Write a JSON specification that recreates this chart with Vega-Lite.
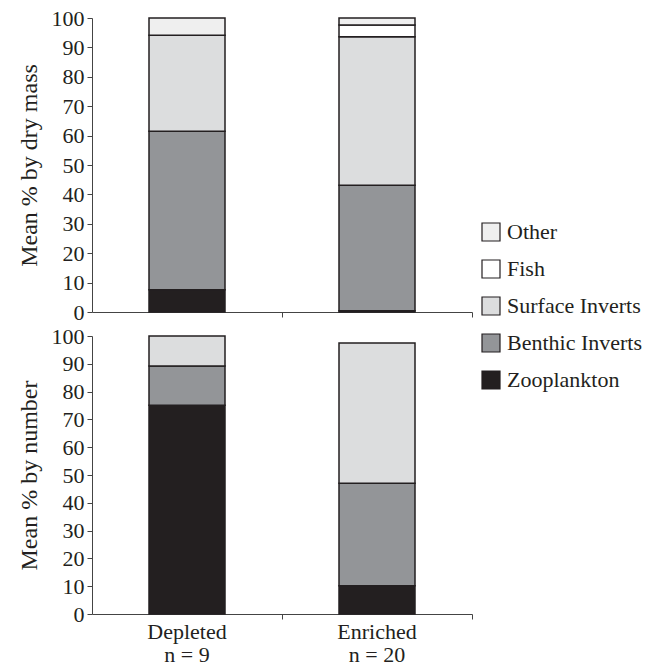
{
  "$schema": "https://vega.github.io/schema/vega-lite/v6.json",
  "background": "white",
  "padding": {"left": 17, "top": 7, "right": 0, "bottom": 0},
  "spacing": 2,
  "datasets": {
    "mass": [
      {"group": "Depleted", "prey": "Zooplankton", "idx": 1, "pct": 7.6},
      {"group": "Depleted", "prey": "Benthic Inverts", "idx": 2, "pct": 53.9},
      {"group": "Depleted", "prey": "Surface Inverts", "idx": 3, "pct": 32.6},
      {"group": "Depleted", "prey": "Other", "idx": 5, "pct": 5.9},
      {"group": "Enriched", "prey": "Zooplankton", "idx": 1, "pct": 0.4},
      {"group": "Enriched", "prey": "Benthic Inverts", "idx": 2, "pct": 42.7},
      {"group": "Enriched", "prey": "Surface Inverts", "idx": 3, "pct": 50.5},
      {"group": "Enriched", "prey": "Fish", "idx": 4, "pct": 4.0},
      {"group": "Enriched", "prey": "Other", "idx": 5, "pct": 2.4}
    ],
    "number": [
      {"group": "Depleted", "prey": "Zooplankton", "idx": 1, "pct": 75.1},
      {"group": "Depleted", "prey": "Benthic Inverts", "idx": 2, "pct": 14.1},
      {"group": "Depleted", "prey": "Surface Inverts", "idx": 3, "pct": 10.8},
      {"group": "Enriched", "prey": "Zooplankton", "idx": 1, "pct": 10.2},
      {"group": "Enriched", "prey": "Benthic Inverts", "idx": 2, "pct": 36.8},
      {"group": "Enriched", "prey": "Surface Inverts", "idx": 3, "pct": 50.5}
    ]
  },
  "config": {
    "font": "Liberation Serif",
    "view": {"stroke": null},
    "axis": {
      "grid": false,
      "domainColor": "#444",
      "tickColor": "#444",
      "tickSize": 5,
      "labelFont": "Liberation Serif",
      "labelFontSize": 22,
      "labelColor": "#231f20",
      "titleFont": "Liberation Serif",
      "titleFontSize": 24,
      "titleFontWeight": "normal",
      "titleColor": "#231f20"
    },
    "legend": {
      "labelFont": "Liberation Serif",
      "labelFontSize": 22,
      "labelColor": "#231f20"
    }
  },
  "vconcat": [
    {
      "width": 380,
      "height": 294,
      "data": {"name": "mass"},
      "mark": {"type": "bar", "width": {"band": 0.4}, "stroke": "#231f20", "strokeWidth": 1.5},
      "encoding": {
        "x": {
          "field": "group", "type": "nominal", "sort": ["Depleted", "Enriched"],
          "scale": {"padding": 0},
          "axis": {"title": null, "labels": false, "bandPosition": 1, "labelAngle": 0}
        },
        "y": {
          "field": "pct", "type": "quantitative", "stack": "zero",
          "scale": {"domain": [0, 100], "nice": false},
          "axis": {"title": "Mean % by dry mass", "values": [0,10,20,30,40,50,60,70,80,90,100], "labelPadding": 3, "titlePadding": 10}
        },
        "order": {"field": "idx", "type": "quantitative", "sort": "ascending"},
        "color": {
          "field": "prey", "type": "nominal",
          "scale": {
            "domain": ["Other", "Fish", "Surface Inverts", "Benthic Inverts", "Zooplankton"],
            "range": ["#efefef", "#ffffff", "#dcddde", "#939598", "#231f20"]
          },
          "legend": {
            "title": null, "orient": "none", "legendX": 388, "legendY": 203,
            "symbolType": "square", "symbolSize": 324, "symbolStrokeColor": "#231f20",
            "symbolStrokeWidth": 1.2, "symbolOpacity": 1, "rowPadding": 13, "labelOffset": 5
          }
        }
      }
    },
    {
      "width": 380,
      "height": 278,
      "data": {"name": "number"},
      "mark": {"type": "bar", "width": {"band": 0.4}, "stroke": "#231f20", "strokeWidth": 1.5},
      "encoding": {
        "x": {
          "field": "group", "type": "nominal", "sort": ["Depleted", "Enriched"],
          "scale": {"padding": 0},
          "axis": {
            "title": null, "bandPosition": 1, "labelAngle": 0, "labelPadding": 2,
            "labelLineHeight": 23,
            "labelExpr": "datum.value == 'Depleted' ? ['Depleted', 'n = 9'] : ['Enriched', 'n = 20']"
          }
        },
        "y": {
          "field": "pct", "type": "quantitative", "stack": "zero",
          "scale": {"domain": [0, 100], "nice": false},
          "axis": {"title": "Mean % by number", "values": [0,10,20,30,40,50,60,70,80,90,100], "labelPadding": 3, "titlePadding": 10}
        },
        "order": {"field": "idx", "type": "quantitative", "sort": "ascending"},
        "color": {
          "field": "prey", "type": "nominal",
          "scale": {
            "domain": ["Other", "Fish", "Surface Inverts", "Benthic Inverts", "Zooplankton"],
            "range": ["#efefef", "#ffffff", "#dcddde", "#939598", "#231f20"]
          }
        }
      }
    }
  ]
}
